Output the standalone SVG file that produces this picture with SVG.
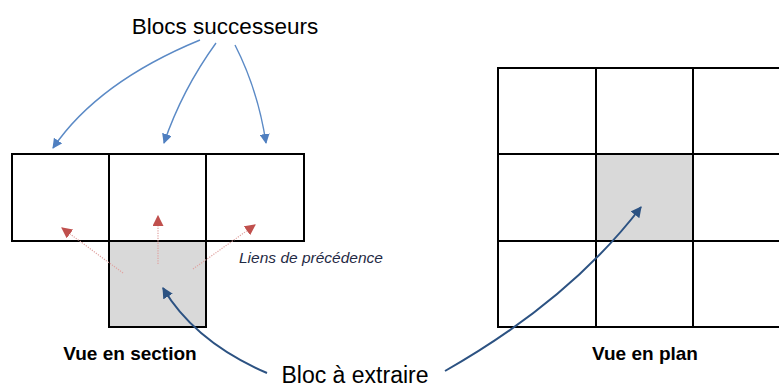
<svg xmlns="http://www.w3.org/2000/svg" width="779" height="387" viewBox="0 0 779 387">
  <style>
    .cell { fill: #ffffff; stroke: #000000; stroke-width: 2; }
    .extract { fill: #d9d9d9; stroke: #000000; stroke-width: 2; }
    .succ { fill: none; stroke: #5b8ac6; stroke-width: 1.4; }
    .prec { fill: none; stroke: #e0a2a0; stroke-width: 1.2; stroke-dasharray: 1.2 1.3; }
    .pick { fill: none; stroke: #2c5282; stroke-width: 2; }
    .label { font-family: "Liberation Sans", "Open Sans", sans-serif; fill: #000000; }
    .title { font-size: 22.5px; }
    .bottom { font-size: 23px; }
    .caption { font-size: 19px; font-weight: bold; }
    .note { font-size: 15px; font-style: italic; fill: #1f2a44; }
  </style>
  <defs>
    <marker id="headSucc" viewBox="0 0 10 10" refX="9" refY="5" markerWidth="10" markerHeight="10" markerUnits="userSpaceOnUse" orient="auto">
      <path d="M0,0 L10,5 L0,10 z" fill="#4f7fc0"/>
    </marker>
    <marker id="headPrec" viewBox="0 0 10 10" refX="9" refY="5" markerWidth="11" markerHeight="11" markerUnits="userSpaceOnUse" orient="auto">
      <path d="M0,0 L10,5 L0,10 z" fill="#c0504d"/>
    </marker>
    <marker id="headPick" viewBox="0 0 10 10" refX="9" refY="5" markerWidth="11" markerHeight="11" markerUnits="userSpaceOnUse" orient="auto">
      <path d="M0,0 L10,5 L0,10 z" fill="#2c5282"/>
    </marker>
  </defs>

  <!-- Section view: three successor blocks over the block to extract -->
  <g id="section-left"><rect class="cell" x="12" y="154" width="97" height="87"/></g>
  <g id="section-middle"><rect class="cell" x="109" y="154" width="97" height="87"/></g>
  <g id="section-right"><rect class="cell" x="206" y="154" width="98" height="87"/></g>
  <g id="section-extract"><rect class="extract" x="109" y="241" width="97" height="86"/></g>

  <!-- Plan view: 3x3 grid, centre block highlighted -->
  <g id="plan-grid">
    <rect class="cell" x="498" y="68" width="98" height="86"/>
    <rect class="cell" x="596" y="68" width="97" height="86"/>
    <rect class="cell" x="693" y="68" width="98" height="86"/>
    <rect class="cell" x="498" y="154" width="98" height="87"/>
    <rect class="cell" x="693" y="154" width="98" height="87"/>
    <rect class="cell" x="498" y="241" width="98" height="86"/>
    <rect class="cell" x="596" y="241" width="97" height="86"/>
    <rect class="cell" x="693" y="241" width="98" height="86"/>
  </g>
  <g id="plan-extract"><rect class="extract" x="596" y="154" width="97" height="87"/></g>

  <!-- Connectors -->
  <g id="connectors">
    <path class="succ" d="M200,40 Q98,82 53,148" marker-end="url(#headSucc)"/>
    <path class="succ" d="M216,43 Q182,90 164,143" marker-end="url(#headSucc)"/>
    <path class="succ" d="M235,45 Q258,90 266,143" marker-end="url(#headSucc)"/>

    <path class="prec" d="M123,273 L62,228" marker-end="url(#headPrec)"/>
    <path class="prec" d="M158,264 L158,216" marker-end="url(#headPrec)"/>
    <path class="prec" d="M193,269 L255,225" marker-end="url(#headPrec)"/>

    <path class="pick" d="M267,373 Q195,342 163,288" marker-end="url(#headPick)"/>
    <path class="pick" d="M445,371 Q570,300 641,207" marker-end="url(#headPick)"/>
  </g>

  <!-- Labels -->
  <g id="labels">
    <text class="label title" x="225" y="34" text-anchor="middle">Blocs successeurs</text>
    <text class="label note" x="239" y="263" textLength="144" lengthAdjust="spacingAndGlyphs">Liens de précédence</text>
    <text class="label caption" x="130" y="360" text-anchor="middle">Vue en section</text>
    <text class="label caption" x="645" y="360" text-anchor="middle">Vue en plan</text>
    <text class="label bottom" x="355" y="383" text-anchor="middle">Bloc à extraire</text>
  </g>
</svg>
